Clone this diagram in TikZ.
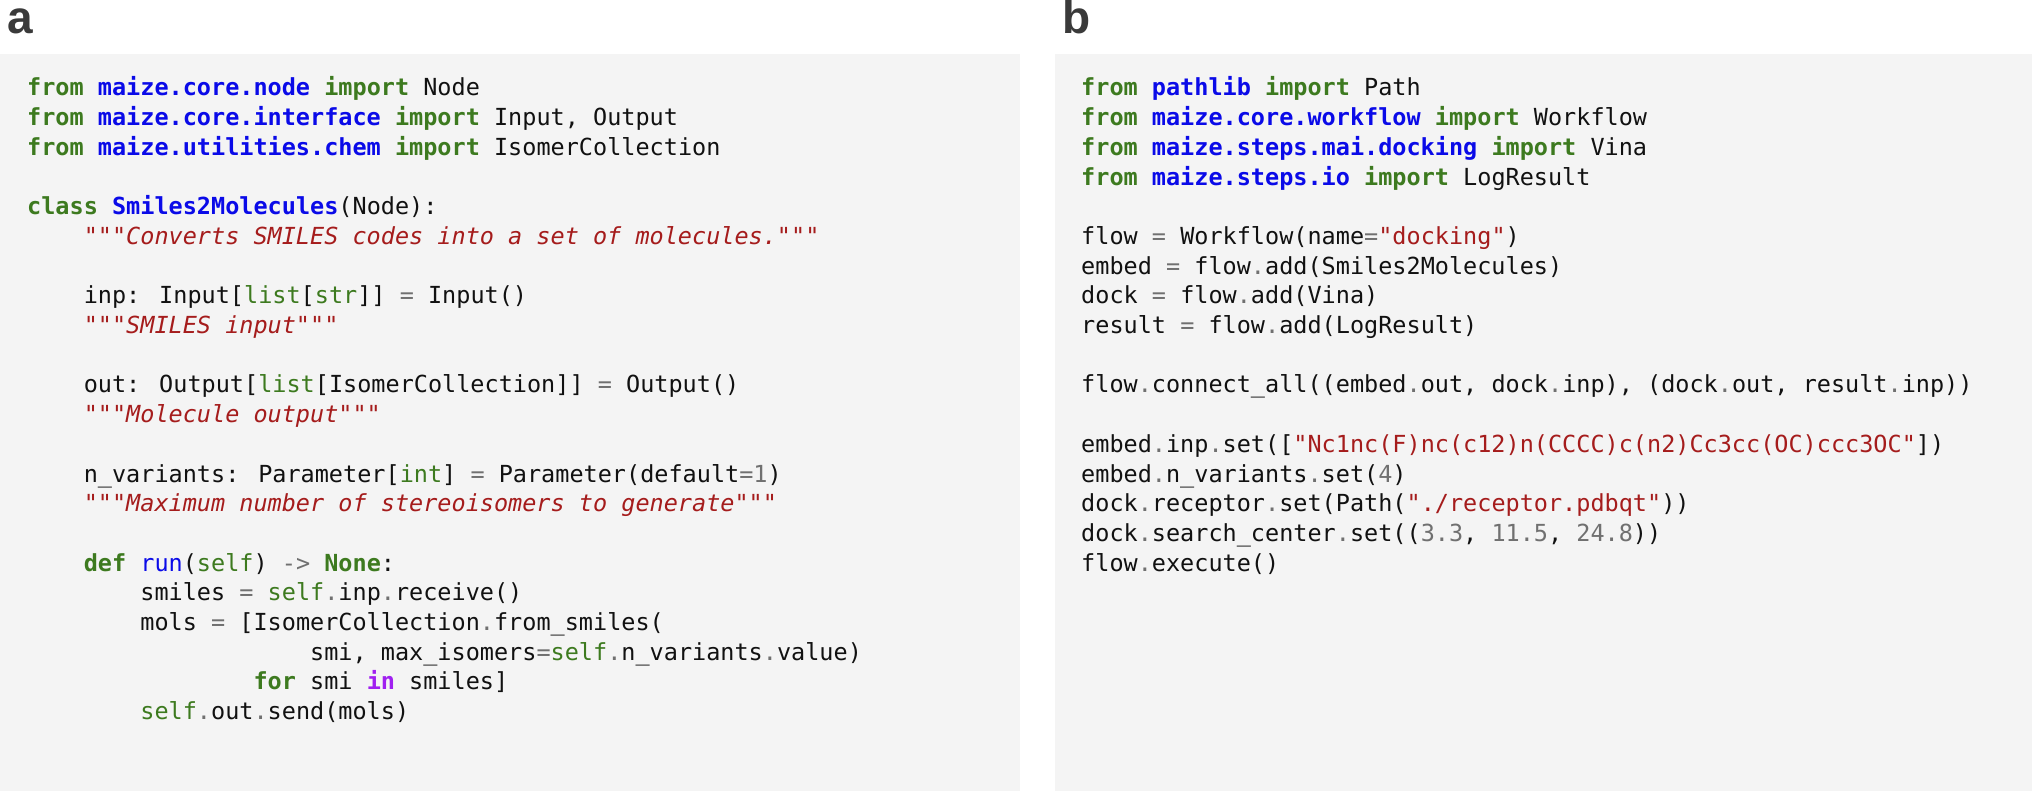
\documentclass[tikz,border=0pt]{standalone}
\usepackage{fontspec}
\setmainfont{Liberation Sans}
\newfontfamily\codefont{DejaVu Sans Mono}
\definecolor{kwgreen}{HTML}{3D7A1F}
\definecolor{nsblue}{HTML}{0A0AE8}
\definecolor{strred}{HTML}{A51C1C}
\definecolor{opgray}{HTML}{707070}
\definecolor{owpurple}{HTML}{A020F0}
\definecolor{codeblack}{HTML}{111111}
\definecolor{panelbg}{HTML}{F4F4F4}
\definecolor{labelgray}{HTML}{3A3A3A}
\newcommand\kwd[1]{\textcolor{kwgreen}{\bfseries #1}}
\newcommand\bltn[1]{\textcolor{kwgreen}{#1}}
\newcommand\nsp[1]{\textcolor{nsblue}{\bfseries #1}}
\newcommand\fnc[1]{\textcolor{nsblue}{#1}}
\newcommand\opr[1]{\textcolor{opgray}{#1}}
\newcommand\dstr[1]{\textcolor{strred}{\itshape #1}}
\newcommand\strg[1]{\textcolor{strred}{#1}}
\newcommand\numb[1]{\textcolor{opgray}{#1}}
\newcommand\owd[1]{\textcolor{owpurple}{\bfseries #1}}
\newcommand\ly[1]{695-(#1-1)*29.7}
\tikzset{
  codeline/.style={anchor=base west, inner sep=0pt, text=codeblack,
    font=\codefont\fontsize{23.5}{29.7}\selectfont},
  panellabel/.style={anchor=base west, inner sep=0pt, text=labelgray,
    font=\fontsize{46}{50}\selectfont\bfseries}
}
\begin{document}
\begin{tikzpicture}[x=1pt,y=1pt]
\useasboundingbox (0,0) rectangle (2032,791);
\fill[white] (0,0) rectangle (2032,791);
\fill[panelbg] (0,0) rectangle (1020,737);
\fill[panelbg] (1055,0) rectangle (2032,737);
\node[panellabel] (la) at (7,757) {a};
\node[panellabel] (lb) at (1062,757) {b};
% panel a
\node[codeline] (a1) at (27,{\ly{1}}) {\kwd{from} \nsp{maize.core.node} \kwd{import} Node};
\node[codeline] (a2) at (27,{\ly{2}}) {\kwd{from} \nsp{maize.core.interface} \kwd{import} Input, Output};
\node[codeline] (a3) at (27,{\ly{3}}) {\kwd{from} \nsp{maize.utilities.chem} \kwd{import} IsomerCollection};
\node[codeline] (a5) at (27,{\ly{5}}) {\kwd{class} \nsp{Smiles2Molecules}(Node):};
\node[codeline] (a6) at (27,{\ly{6}}) {~~~~\dstr{"""Converts SMILES codes into a set of molecules."""}};
\node[codeline] (a8) at (27,{\ly{8}}) {~~~~inp: Input[\bltn{list}[\bltn{str}]] \opr{=} Input()};
\node[codeline] (a9) at (27,{\ly{9}}) {~~~~\dstr{"""SMILES input"""}};
\node[codeline] (a11) at (27,{\ly{11}}) {~~~~out: Output[\bltn{list}[IsomerCollection]] \opr{=} Output()};
\node[codeline] (a12) at (27,{\ly{12}}) {~~~~\dstr{"""Molecule output"""}};
\node[codeline] (a14) at (27,{\ly{14}}) {~~~~n\_variants: Parameter[\bltn{int}] \opr{=} Parameter(default\opr{=}\numb{1})};
\node[codeline] (a15) at (27,{\ly{15}}) {~~~~\dstr{"""Maximum number of stereoisomers to generate"""}};
\node[codeline] (a17) at (27,{\ly{17}}) {~~~~\kwd{def} \fnc{run}(\bltn{self}) \opr{->} \kwd{None}:};
\node[codeline] (a18) at (27,{\ly{18}}) {~~~~~~~~smiles \opr{=} \bltn{self}\opr{.}inp\opr{.}receive()};
\node[codeline] (a19) at (27,{\ly{19}}) {~~~~~~~~mols \opr{=} [IsomerCollection\opr{.}from\_smiles(};
\node[codeline] (a20) at (27,{\ly{20}}) {~~~~~~~~~~~~~~~~~~~~smi, max\_isomers\opr{=}\bltn{self}\opr{.}n\_variants\opr{.}value)};
\node[codeline] (a21) at (27,{\ly{21}}) {~~~~~~~~~~~~~~~~\kwd{for} smi \owd{in} smiles]};
\node[codeline] (a22) at (27,{\ly{22}}) {~~~~~~~~\bltn{self}\opr{.}out\opr{.}send(mols)};
% panel b
\node[codeline] (b1) at (1081,{\ly{1}}) {\kwd{from} \nsp{pathlib} \kwd{import} Path};
\node[codeline] (b2) at (1081,{\ly{2}}) {\kwd{from} \nsp{maize.core.workflow} \kwd{import} Workflow};
\node[codeline] (b3) at (1081,{\ly{3}}) {\kwd{from} \nsp{maize.steps.mai.docking} \kwd{import} Vina};
\node[codeline] (b4) at (1081,{\ly{4}}) {\kwd{from} \nsp{maize.steps.io} \kwd{import} LogResult};
\node[codeline] (b6) at (1081,{\ly{6}}) {flow \opr{=} Workflow(name\opr{=}\strg{"docking"})};
\node[codeline] (b7) at (1081,{\ly{7}}) {embed \opr{=} flow\opr{.}add(Smiles2Molecules)};
\node[codeline] (b8) at (1081,{\ly{8}}) {dock \opr{=} flow\opr{.}add(Vina)};
\node[codeline] (b9) at (1081,{\ly{9}}) {result \opr{=} flow\opr{.}add(LogResult)};
\node[codeline] (b11) at (1081,{\ly{11}}) {flow\opr{.}connect\_all((embed\opr{.}out, dock\opr{.}inp), (dock\opr{.}out, result\opr{.}inp))};
\node[codeline] (b13) at (1081,{\ly{13}}) {embed\opr{.}inp\opr{.}set([\strg{"Nc1nc(F)nc(c12)n(CCCC)c(n2)Cc3cc(OC)ccc3OC"}])};
\node[codeline] (b14) at (1081,{\ly{14}}) {embed\opr{.}n\_variants\opr{.}set(\numb{4})};
\node[codeline] (b15) at (1081,{\ly{15}}) {dock\opr{.}receptor\opr{.}set(Path(\strg{"./receptor.pdbqt"}))};
\node[codeline] (b16) at (1081,{\ly{16}}) {dock\opr{.}search\_center\opr{.}set((\numb{3.3}, \numb{11.5}, \numb{24.8}))};
\node[codeline] (b17) at (1081,{\ly{17}}) {flow\opr{.}execute()};
\end{tikzpicture}
\end{document}
